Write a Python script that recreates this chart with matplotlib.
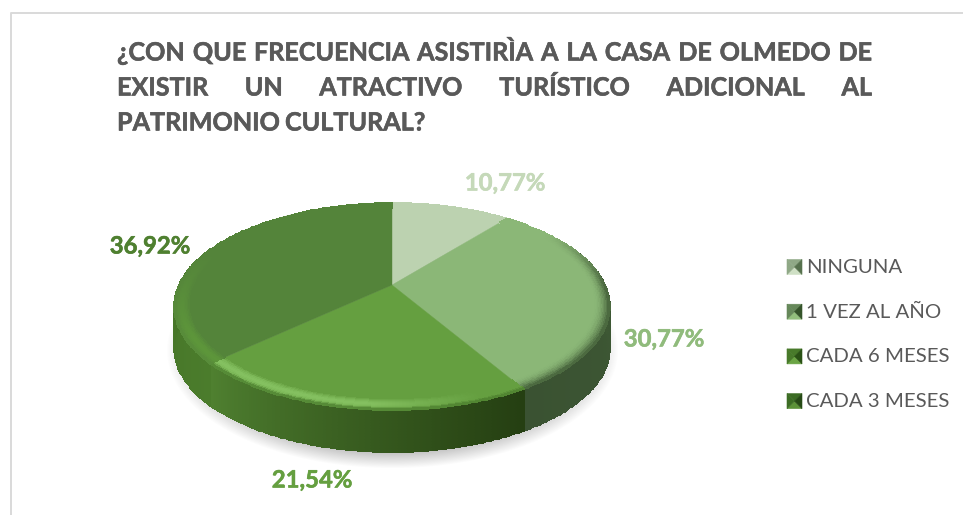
# pie chart with a 3d look, drawn in pixel coordinates of the picture
import numpy as np
import matplotlib
matplotlib.use('Agg')
import matplotlib.pyplot as plt
import matplotlib.patheffects as pe
from matplotlib.colors import to_rgb

categorias = ['NINGUNA', '1 VEZ AL AÑO', 'CADA 6 MESES', 'CADA 3 MESES']
valores = [10.77, 30.77, 21.54, 36.92]
etiquetas = ['10,77%', '30,77%', '21,54%', '36,92%']
titulo = ['¿CON QUE FRECUENCIA ASISTIRÌA A LA CASA DE OLMEDO DE',
          'EXISTIR UN ATRACTIVO TURÍSTICO ADICIONAL AL',
          'PATRIMONIO CULTURAL?']

color_top = ['#bcd2b0', '#8bb777', '#659f40', '#54843a']
color_label = ['#c5d9b9', '#90bb7c', '#659f40', '#4f8030']
label_pos = [(505, 183), (664, 339), (312, 480), (150, 246)]

plt.rcParams['font.family'] = ['Lato', 'DejaVu Sans']
fig = plt.figure(figsize=(9.63, 5.15), dpi=100)
ax = fig.add_axes([0, 0, 1, 1])
ax.set_xlim(0, 963)
ax.set_ylim(515, 0)
ax.axis('off')

# chart border
ax.plot([11, 11, 963], [515, 13, 13], color='#d9d9d9', lw=1.4)

# pie geometry, circle seen in perspective
cx, cy = 392, 285
a, b, k = 213, 99, 0.208
depth = 42


def proj(theta, r=1.0):
    u = r * np.sin(theta)
    v = -r * np.cos(theta)
    d = 1 - k * v
    return cx + a * u / d, cy + b * v / d


def mix(c1, c2, t):
    c1 = np.array(to_rgb(c1))
    c2 = np.array(to_rgb(c2))
    return c1 + (c2 - c1) * t


# soft shadow under the pie
gx, gy = np.meshgrid(np.arange(150, 640), np.arange(220, 480))
dist = np.sqrt(((gx - 392) / 226.0) ** 2 + ((gy - 350) / 118.0) ** 2)
sh = np.zeros(gx.shape + (4,))
sh[..., :3] = 0.55
sh[..., 3] = np.clip((1 - dist) / 0.13, 0, 1) * 0.5
ax.imshow(sh, extent=(150, 640, 480, 220), aspect='auto', zorder=1, interpolation='bilinear')
ax.set_xlim(0, 963)
ax.set_ylim(515, 0)

fracs = np.cumsum([0] + valores) / 100.0 * 2 * np.pi

# side of the pie
for i in range(len(valores)):
    th = np.linspace(fracs[i], fracs[i + 1], 120)
    vis = (np.degrees(th) > 70) & (np.degrees(th) < 290)
    if vis.sum() < 2:
        continue
    th = th[vis]
    xs, ys = proj(th)
    ts = np.linspace(0, 1, 16)
    X = np.outer(np.ones(len(ts)), xs)
    Y = np.outer(ts * depth, np.ones(len(xs))) + ys
    C = np.zeros((len(ts) - 1, len(th) - 1, 3))
    for m in range(len(th) - 1):
        s = m / (len(th) - 2.0)
        if i == 1:
            base = mix('#3f5a35', '#3a5232', s)
        elif i == 2:
            base = mix('#253f12', '#4f8030', s ** 1.1)
        else:
            base = mix('#4b7c2c', '#447226', s)
        C[:, m] = base
    ax.pcolormesh(X, Y, C, shading='flat', edgecolors='face', linewidth=0.3, zorder=2)

# top face
for i in range(len(valores)):
    th = np.linspace(fracs[i], fracs[i + 1], 100)
    xs, ys = proj(th)
    ax.fill(np.r_[cx, xs], np.r_[cy, ys], color=color_top[i], lw=0.3, zorder=3)

# rounded rim on the front of the top face
for i in range(len(valores)):
    th = np.linspace(fracs[i], fracs[i + 1], 100)
    rs = np.linspace(0.93, 1.0, 12)
    X = np.zeros((len(rs), len(th)))
    Y = np.zeros((len(rs), len(th)))
    for n, r in enumerate(rs):
        X[n], Y[n] = proj(th, r)
    C = np.zeros((len(rs) - 1, len(th) - 1, 3))
    for n in range(len(rs) - 1):
        for m in range(len(th) - 1):
            t = np.degrees(th[m])
            p = (rs[n] - 0.93) / 0.07
            if i == 2:
                # light band along the front, fades towards the right
                glow = np.clip((t - 160) / 25.0, 0, 1)
                col = mix(color_top[i], '#84c060', np.sin(p * np.pi) * glow)
                col = mix(col, '#3f6e25', max(p - 0.75, 0) / 0.25 * 0.8)
            elif i == 1:
                dark = np.clip((t - 55) / 35.0, 0, 1)
                col = mix(color_top[i], '#3f5a35', p ** 2 * dark)
            elif i == 3:
                front = np.clip((290 - t) / 50.0, 0, 1)
                col = mix(color_top[i], '#5f9a3a', (np.sin(p * np.pi) * 0.7 + 0.2 * p) * front)
            else:
                col = np.array(to_rgb(color_top[i]))
            C[n, m] = col
    ax.pcolormesh(X, Y, C, shading='flat', edgecolors='face', linewidth=0.3, zorder=4)

# percent labels
for i in range(len(valores)):
    ax.text(label_pos[i][0], label_pos[i][1], etiquetas[i], color=color_label[i], fontsize=17.2,
            fontweight='bold', ha='center', va='center', zorder=6,
            path_effects=[pe.withStroke(linewidth=0.4, foreground=color_label[i])])

# legend, keys are small pyramids
key_dark = ['#56714d', '#35542a', '#2a5215', '#264a15']
key_light = ['#cfe0c5', '#93c07d', '#6ba545', '#5c9238']
key_mid = ['#8fa886', '#66885a', '#487a2a', '#3c6c24']
for i in range(len(categorias)):
    y = 267 + i * 44.7
    x0, x1 = 787, 802
    y0, y1 = y - 7.5, y + 7.5
    xm, ym = (x0 + x1) / 2, y
    ax.fill([x0, x1, xm], [y0, y0, ym], color=key_mid[i], lw=0.4, zorder=5)
    ax.fill([x0, x1, xm], [y1, y1, ym], color=key_light[i], lw=0.4, zorder=5)
    ax.fill([x0, x0, xm], [y0, y1, ym], color=key_mid[i], lw=0.4, zorder=5)
    ax.fill([x1, x1, xm], [y0, y1, ym], color=key_dark[i], lw=0.4, zorder=5)
    ax.text(806, y + 0.5, categorias[i], color='#595959', fontsize=14.7, ha='left', va='center', zorder=6)

# justified title, first two lines are spread between the margins
fig.canvas.draw()
rend = fig.canvas.get_renderer()
left, right = 117, 872
for n, linea in enumerate(titulo):
    y = 53 + n * 35
    palabras = linea.split(' ')
    arts = [ax.text(0, y, p, color='#595959', fontsize=18.1, fontweight='bold', ha='left', va='center',
                    path_effects=[pe.withStroke(linewidth=0.4, foreground='#595959')])
            for p in palabras]
    w = [t.get_window_extent(rend).width for t in arts]
    if n < 2:
        gap = (right - left - sum(w)) / (len(arts) - 1)
    else:
        gap = 5
    x = left
    for t, wi in zip(arts, w):
        t.set_x(x)
        x += wi + gap

fig.savefig('out.png', dpi=100)
